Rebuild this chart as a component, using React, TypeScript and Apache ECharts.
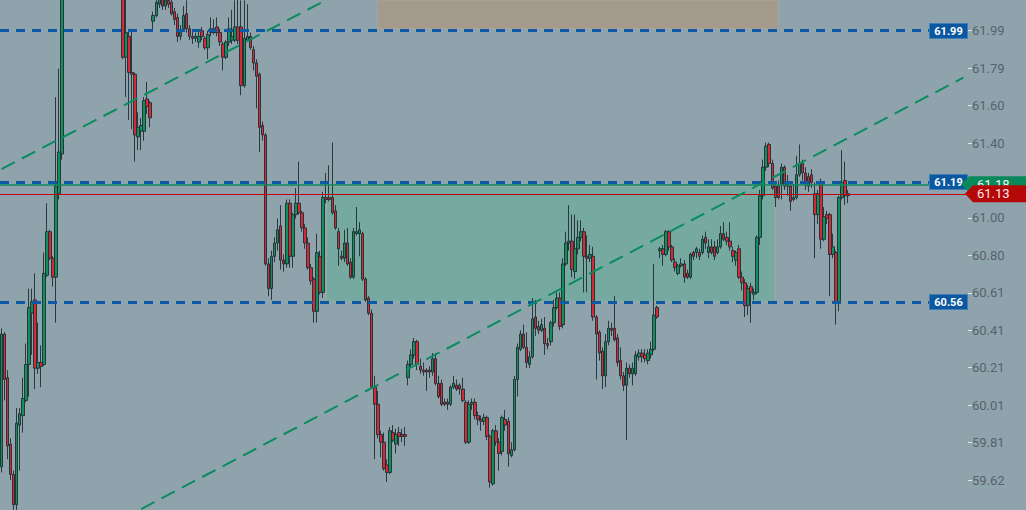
import React, { useEffect, useRef } from "react";
import * as echarts from "echarts";

// Each candle: [open, close, low, high]
const candlesRallyStart: number[][] = [
  [59.69, 60.39, 59.66, 60.42], [60.39, 60.15, 60.04, 60.40], [60.16, 59.80, 59.73, 60.20],
  [59.81, 59.65, 59.62, 59.84], [59.65, 59.49, 59.44, 59.67], [59.49, 59.92, 59.44, 60.00],
  [59.91, 59.97, 59.67, 60.00], [59.96, 60.05, 59.87, 60.16], [60.04, 60.23, 60.03, 60.34],
  [60.23, 60.53, 60.06, 60.63], [60.50, 60.56, 60.28, 60.63], [60.57, 60.21, 60.10, 60.71],
  [60.21, 60.24, 60.18, 60.45], [60.24, 60.22, 60.11, 60.33], [60.23, 60.71, 60.22, 60.82],
  [60.70, 60.93, 60.69, 61.08], [60.93, 60.79, 60.78, 60.94], [60.79, 60.69, 60.64, 60.80],
  [60.69, 61.17, 60.45, 61.64], [61.13, 61.35, 61.10, 61.79], [61.34, 62.36, 61.31, 62.47],
];
const candlesAboveView: number[][] = [
  [62.36, 62.45, 62.30, 62.50], [62.45, 62.52, 62.40, 62.58], [62.52, 62.48, 62.42, 62.60],
  [62.48, 62.58, 62.44, 62.63], [62.58, 62.62, 62.52, 62.68], [62.62, 62.55, 62.50, 62.66],
  [62.55, 62.60, 62.49, 62.64], [62.60, 62.66, 62.56, 62.72], [62.66, 62.61, 62.55, 62.70],
  [62.61, 62.57, 62.50, 62.65], [62.57, 62.63, 62.52, 62.67], [62.63, 62.54, 62.49, 62.66],
  [62.54, 62.49, 62.44, 62.58], [62.49, 62.52, 62.43, 62.56], [62.52, 62.45, 62.40, 62.55],
  [62.45, 62.40, 62.34, 62.48], [62.40, 62.43, 62.33, 62.47], [62.43, 62.35, 62.30, 62.46],
  [62.35, 62.26, 62.22, 62.38],
];
const candlesFirstDrop: number[][] = [
  [62.23, 61.85, 61.84, 62.28], [61.85, 61.98, 61.64, 62.18], [61.96, 61.77, 61.52, 62.00],
  [61.77, 61.76, 61.47, 62.00], [61.76, 61.44, 61.30, 61.77], [61.43, 61.48, 61.36, 61.56],
  [61.46, 61.49, 61.36, 61.53], [61.46, 61.62, 61.41, 61.64], [61.63, 61.59, 61.55, 61.72],
  [61.61, 61.53, 61.48, 61.62],
];
const candlesTopRange: number[][] = [
  [62.04, 62.07, 61.99, 62.09], [62.07, 62.14, 62.06, 62.19], [62.13, 62.16, 62.11, 62.21],
  [62.16, 62.12, 62.10, 62.19], [62.12, 62.15, 62.10, 62.18], [62.15, 62.13, 62.11, 62.18],
  [62.14, 62.08, 62.07, 62.16], [62.09, 62.05, 62.02, 62.11], [62.06, 61.96, 61.93, 62.08],
  [61.96, 61.99, 61.94, 62.02], [62.00, 62.07, 61.99, 62.12], [62.08, 62.00, 61.98, 62.15],
  [62.00, 61.96, 61.94, 62.02], [61.96, 61.95, 61.92, 61.99], [61.95, 61.96, 61.93, 61.98],
  [61.93, 61.96, 61.90, 61.99], [61.99, 61.96, 61.94, 62.01], [61.95, 61.90, 61.89, 61.96],
  [61.90, 61.97, 61.84, 61.99], [61.98, 62.00, 61.96, 62.06], [61.98, 62.00, 61.97, 62.05],
  [62.01, 61.98, 61.96, 62.06], [61.98, 61.93, 61.91, 62.00], [61.92, 61.85, 61.78, 61.93],
  [61.85, 61.93, 61.84, 61.94], [61.93, 62.00, 61.91, 62.06], [61.94, 61.96, 61.92, 62.10],
  [61.94, 62.01, 61.93, 62.15], [62.01, 61.94, 61.92, 62.18], [62.01, 61.70, 61.65, 62.15],
  [61.70, 61.95, 61.69, 62.15], [61.94, 61.96, 61.93, 62.13], [61.96, 61.90, 61.89, 61.98],
  [61.89, 61.82, 61.78, 61.91], [61.82, 61.75, 61.58, 61.84],
];
const candlesSlide: number[][] = [
  [61.76, 61.48, 61.35, 61.77], [61.49, 61.44, 61.41, 61.51], [61.44, 60.76, 60.75, 61.45],
  [60.76, 60.63, 60.59, 60.79], [60.63, 60.80, 60.57, 60.83], [60.80, 60.87, 60.77, 60.90],
  [60.87, 60.94, 60.83, 61.00], [60.96, 60.78, 60.73, 61.07], [60.78, 60.76, 60.72, 60.81],
  [60.76, 61.08, 60.74, 61.10], [61.08, 60.80, 60.74, 61.10], [60.80, 61.02, 60.74, 61.03],
  [61.02, 61.08, 61.00, 61.16], [61.08, 61.03, 61.02, 61.30], [61.03, 60.95, 60.93, 61.04],
  [60.95, 60.87, 60.84, 60.97], [60.87, 60.74, 60.73, 60.90], [60.74, 60.67, 60.65, 60.76],
  [60.68, 60.51, 60.45, 60.69], [60.51, 60.82, 60.45, 60.92], [60.80, 60.61, 60.60, 60.83],
  [60.61, 61.11, 60.58, 61.14], [61.11, 61.10, 61.08, 61.24], [61.11, 61.10, 61.09, 61.28],
  [61.11, 61.03, 61.02, 61.40], [61.04, 60.95, 60.94, 61.07], [60.93, 60.84, 60.75, 60.95],
  [60.80, 60.79, 60.78, 60.83], [60.79, 60.87, 60.77, 60.94], [60.87, 60.76, 60.75, 60.95],
  [60.77, 60.69, 60.68, 60.79], [60.69, 60.93, 60.68, 60.95], [60.92, 60.93, 60.91, 61.06],
  [60.92, 60.94, 60.80, 60.98], [60.92, 60.68, 60.67, 60.93], [60.68, 60.57, 60.56, 60.69],
  [60.58, 60.50, 60.49, 60.59], [60.50, 60.11, 60.10, 60.52], [60.11, 60.02, 59.73, 60.17],
  [60.02, 59.86, 59.84, 60.09], [59.86, 59.82, 59.74, 59.88], [59.82, 59.68, 59.67, 59.87],
  [59.70, 59.66, 59.61, 59.73], [59.66, 59.88, 59.65, 59.90], [59.87, 59.83, 59.82, 59.91],
  [59.81, 59.86, 59.76, 59.89], [59.87, 59.85, 59.80, 59.90], [59.86, 59.85, 59.82, 59.89],
  [59.86, 59.85, 59.80, 59.90],
];
const candlesLowBase: number[][] = [
  [60.16, 60.23, 60.12, 60.25], [60.23, 60.28, 60.21, 60.31], [60.28, 60.35, 60.26, 60.37],
  [60.35, 60.23, 60.20, 60.36], [60.22, 60.20, 60.18, 60.26], [60.20, 60.19, 60.17, 60.24],
  [60.20, 60.19, 60.09, 60.21], [60.20, 60.19, 60.16, 60.22], [60.19, 60.26, 60.17, 60.29],
  [60.26, 60.13, 60.12, 60.29], [60.13, 60.06, 60.05, 60.17], [60.13, 60.02, 60.01, 60.15],
  [60.03, 60.02, 60.01, 60.05], [60.03, 60.02, 59.99, 60.05], [60.02, 60.11, 60.01, 60.12],
  [60.11, 60.13, 60.10, 60.17], [60.12, 60.10, 60.09, 60.15], [60.12, 60.10, 60.07, 60.13],
  [60.10, 60.04, 60.03, 60.16], [60.03, 59.82, 59.81, 60.04], [59.82, 60.02, 59.81, 60.04],
  [60.02, 60.03, 59.99, 60.05], [60.03, 59.96, 59.94, 60.05], [59.96, 59.94, 59.91, 59.98],
  [59.94, 59.93, 59.88, 59.96], [59.93, 59.95, 59.91, 59.97], [59.95, 59.85, 59.83, 59.96],
  [59.85, 59.61, 59.58, 59.86], [59.60, 59.88, 59.59, 59.89], [59.88, 59.82, 59.80, 59.91],
  [59.82, 59.76, 59.67, 59.84], [59.77, 59.95, 59.75, 59.96], [59.94, 59.91, 59.88, 59.99],
  [59.93, 59.76, 59.69, 59.95], [59.75, 59.78, 59.74, 59.82], [59.78, 60.15, 59.77, 60.17],
  [60.15, 60.32, 60.06, 60.34], [60.31, 60.39, 60.30, 60.41], [60.39, 60.32, 60.31, 60.44],
  [60.32, 60.24, 60.21, 60.40],
];
const candlesRecovery: number[][] = [
  [60.23, 60.27, 60.21, 60.30], [60.27, 60.47, 60.26, 60.58], [60.48, 60.42, 60.38, 60.57],
  [60.43, 60.41, 60.39, 60.46], [60.41, 60.44, 60.40, 60.47], [60.42, 60.34, 60.28, 60.48],
  [60.34, 60.33, 60.31, 60.37], [60.35, 60.45, 60.33, 60.46], [60.45, 60.53, 60.43, 60.57],
  [60.53, 60.58, 60.52, 60.61], [60.58, 60.43, 60.41, 60.61], [60.44, 60.76, 60.42, 60.79],
  [60.76, 60.87, 60.75, 60.93], [60.87, 60.88, 60.83, 61.07], [60.88, 60.73, 60.69, 61.02],
  [60.72, 60.84, 60.68, 61.02], [60.84, 60.90, 60.81, 60.99], [60.90, 60.93, 60.88, 60.99],
  [60.93, 60.80, 60.61, 60.95], [60.80, 60.79, 60.61, 60.91], [60.79, 60.81, 60.77, 60.86],
  [60.80, 60.48, 60.46, 60.85], [60.48, 60.39, 60.15, 60.49], [60.40, 60.29, 60.25, 60.41],
  [60.30, 60.17, 60.10, 60.32], [60.17, 60.35, 60.11, 60.39], [60.35, 60.42, 60.33, 60.46],
  [60.42, 60.41, 60.38, 60.45], [60.42, 60.36, 60.35, 60.59], [60.37, 60.24, 60.22, 60.39],
  [60.25, 60.17, 60.15, 60.32], [60.17, 60.12, 60.09, 60.19], [60.12, 60.21, 59.83, 60.24],
  [60.21, 60.18, 60.16, 60.23], [60.18, 60.21, 60.12, 60.24], [60.18, 60.28, 60.17, 60.30],
  [60.27, 60.29, 60.25, 60.31], [60.29, 60.27, 60.24, 60.31], [60.28, 60.26, 60.24, 60.31],
  [60.25, 60.29, 60.23, 60.31], [60.28, 60.31, 60.26, 60.35], [60.31, 60.49, 60.30, 60.76],
  [60.53, 60.48, 60.47, 60.54],
];
const candlesLatest: number[][] = [
  [60.83, 60.84, 60.79, 60.85], [60.84, 60.81, 60.75, 60.86], [60.81, 60.93, 60.80, 60.94],
  [60.93, 60.85, 60.83, 60.94], [60.85, 60.78, 60.77, 60.86], [60.77, 60.74, 60.72, 60.79],
  [60.71, 60.75, 60.70, 60.76], [60.75, 60.76, 60.74, 60.79], [60.76, 60.69, 60.66, 60.78],
  [60.71, 60.69, 60.68, 60.73], [60.69, 60.81, 60.68, 60.82], [60.82, 60.80, 60.78, 60.83],
  [60.82, 60.84, 60.79, 60.85], [60.82, 60.80, 60.78, 60.84], [60.82, 60.89, 60.81, 60.91],
  [60.90, 60.87, 60.84, 60.93], [60.82, 60.85, 60.79, 60.89], [60.85, 60.82, 60.81, 60.89],
  [60.85, 60.80, 60.78, 60.88], [60.82, 60.85, 60.81, 60.89], [60.85, 60.92, 60.84, 60.96],
  [60.92, 60.89, 60.88, 60.98], [60.90, 60.88, 60.86, 60.93], [60.88, 60.85, 60.83, 60.98],
  [60.83, 60.80, 60.77, 60.85], [60.78, 60.82, 60.75, 60.83], [60.84, 60.69, 60.68, 60.86],
  [60.69, 60.66, 60.62, 60.72], [60.66, 60.54, 60.48, 60.68], [60.54, 60.63, 60.49, 60.65],
  [60.64, 60.61, 60.45, 60.66], [60.60, 60.61, 60.57, 60.63], [60.61, 60.90, 60.60, 60.91],
  [60.90, 61.12, 60.86, 61.15], [61.12, 61.27, 61.10, 61.31], [61.27, 61.38, 61.25, 61.40],
  [61.39, 61.29, 61.27, 61.40], [61.29, 61.16, 61.15, 61.31], [61.17, 61.11, 61.06, 61.19],
  [61.17, 61.11, 61.10, 61.20], [61.18, 61.27, 61.10, 61.29], [61.27, 61.17, 61.15, 61.28],
  [61.18, 61.17, 61.12, 61.23], [61.17, 61.09, 61.04, 61.19], [61.10, 61.11, 61.09, 61.18],
  [61.11, 61.23, 61.10, 61.33], [61.23, 61.29, 61.22, 61.39], [61.29, 61.24, 61.20, 61.31],
  [61.24, 61.19, 61.15, 61.27], [61.22, 61.17, 61.14, 61.24], [61.23, 61.19, 61.16, 61.26],
  [61.13, 61.02, 60.79, 61.19], [61.02, 61.13, 60.97, 61.15], [61.19, 60.89, 60.84, 61.21],
  [60.89, 61.01, 60.88, 61.06], [61.02, 61.00, 60.97, 61.04], [61.02, 60.81, 60.59, 61.03],
  [60.81, 60.85, 60.79, 60.92], [60.82, 60.56, 60.44, 60.83], [60.56, 61.11, 60.51, 61.12],
  [61.11, 61.19, 61.10, 61.36], [61.20, 61.12, 61.07, 61.30], [61.13, 61.12, 61.08, 61.15],
];

const slotCount = 319;
const categories = Array.from({ length: slotCount }, (_, i) => String(i));

const yMin = 59.462;
const yMax = 62.152;
const tickValues = [59.62, 59.8175, 60.015, 60.2125, 60.41, 60.6075, 60.805, 61.0025, 61.3975, 61.595, 61.7925, 61.99];
const tickLabels = ["59.62", "59.81", "60.01", "60.21", "60.41", "60.61", "60.80", "61.00", "61.40", "61.60", "61.79", "61.99"];

const blueLevels = [61.99, 61.19, 60.56];
const bidLevel = 61.18;
const lastLevel = 61.13;
const upperTrend = [[0, 61.26], [107, 62.152]];
const lowerTrend = [[46, 59.467], [317, 61.743]];
const greenZone = [[107, 61.17], [255, 60.56]];
const brownZone = [[124, 62.152], [256, 62.0]];

export default function App() {
  const ref = useRef<HTMLDivElement>(null);
  useEffect(() => {
    document.body.style.margin = "0";
    const chart = echarts.init(ref.current!, undefined, { renderer: "svg" });
    const candles = [
      ...candlesRallyStart, ...candlesAboveView, ...candlesFirstDrop, ...candlesTopRange,
      ...candlesSlide, ...candlesLowBase, ...candlesRecovery, ...candlesLatest,
    ];
    const trendStyle = { color: "#0a8c5e", width: 2, type: [15, 8] };
    chart.setOption({
      animation: false,
      backgroundColor: "#8fa3ac",
      grid: { left: 0, top: 0, bottom: 0, width: 968, containLabel: false, outerBoundsMode: "none" },
      xAxis: { type: "category", data: categories, boundaryGap: true, show: false },
      yAxis: {
        type: "value",
        position: "right",
        min: yMin,
        max: yMax,
        splitLine: { show: false },
        axisLine: { show: false },
        axisTick: { show: true, length: 4, customValues: tickValues, lineStyle: { color: "#dfe6ea", width: 1 } },
        axisLabel: {
          customValues: tickValues,
          margin: 4,
          color: "#56626c",
          fontFamily: "Roboto",
          fontSize: 13,
          formatter: (val: number) => {
            const k = tickValues.findIndex((t) => Math.abs(t - val) < 1e-4);
            return k >= 0 ? tickLabels[k] : "";
          },
        },
      },
      series: [
        {
          type: "candlestick",
          data: candles,
          barWidth: 3,
          clip: true,
          itemStyle: {
            color: "#10915c",
            color0: "#d42a33",
            borderColor: "#1f2b33",
            borderColor0: "#1f2b33",
            borderWidth: 0.9,
          },
          markArea: {
            silent: true,
            data: [
              [
                { coord: greenZone[0], itemStyle: { color: "#76a9a0", borderColor: "#a3aaa8", borderWidth: 1 } },
                { coord: greenZone[1] },
              ],
              [
                { coord: brownZone[0], itemStyle: { color: "#a49a8c", borderColor: "#aaa49a", borderWidth: 1 } },
                { coord: brownZone[1] },
              ],
            ],
          },
          markLine: {
            silent: true,
            symbol: ["none", "none"],
            label: { show: false },
            data: [
              ...blueLevels.map((v) => ({ yAxis: v, lineStyle: { color: "#0c5aa3", width: 3, type: [9, 7] } })),
              { yAxis: bidLevel, lineStyle: { color: "#0b8a5c", width: 1.5, type: "solid" } },
              { yAxis: lastLevel, lineStyle: { color: "#c40000", width: 1.2, type: "solid" } },
              [
                { coord: upperTrend[0], lineStyle: trendStyle },
                { coord: upperTrend[1], lineStyle: trendStyle },
              ],
              [
                { coord: lowerTrend[0], lineStyle: trendStyle },
                { coord: lowerTrend[1], lineStyle: trendStyle },
              ],
            ],
          },
        },
      ],
    });

    const py = (v: number) => chart.convertToPixel({ yAxisIndex: 0 }, v) as number;
    const elements: any[] = [];
    blueLevels.forEach((v) => {
      const y = Math.round(py(v));
      elements.push({
        type: "rect",
        shape: { x: 929.5, y: y - 7.5, width: 38, height: 15 },
        style: { fill: "#0b57a0", stroke: "#3f7dba", lineWidth: 1 },
        z: 100,
      });
      elements.push({
        type: "text",
        x: 948.5,
        y: y + 0.5,
        style: {
          text: v.toFixed(2), fill: "#ffffff", font: "bold 11px Roboto",
          align: "center", verticalAlign: "middle", textAlign: "center", textVerticalAlign: "middle",
        },
        z: 101,
      });
    });
    const gy = py(bidLevel);
    elements.push({
      type: "polygon",
      shape: { points: [[961, gy], [969, gy - 8], [1026, gy - 8], [1026, gy + 8], [969, gy + 8]] },
      style: { fill: "#0a8a5b" },
      z: 102,
    });
    elements.push({
      type: "text", x: 977, y: gy,
      style: { text: bidLevel.toFixed(2), fill: "#eef3f0", font: "13px Roboto", align: "left", verticalAlign: "middle", textAlign: "left", textVerticalAlign: "middle" },
      z: 103,
    });
    const ry = py(lastLevel);
    elements.push({
      type: "polygon",
      shape: { points: [[965, ry], [973, ry - 8.5], [1026, ry - 8.5], [1026, ry + 8.5], [973, ry + 8.5]] },
      style: { fill: "#b50808" },
      z: 104,
    });
    elements.push({
      type: "text", x: 977, y: ry,
      style: { text: lastLevel.toFixed(2), fill: "#ffeaea", font: "13px Roboto", align: "left", verticalAlign: "middle", textAlign: "left", textVerticalAlign: "middle" },
      z: 105,
    });
    chart.setOption({ graphic: { elements } });

    return () => chart.dispose();
  }, []);
  return <div ref={ref} style={{ width: 1026, height: 510 }} />;
}
